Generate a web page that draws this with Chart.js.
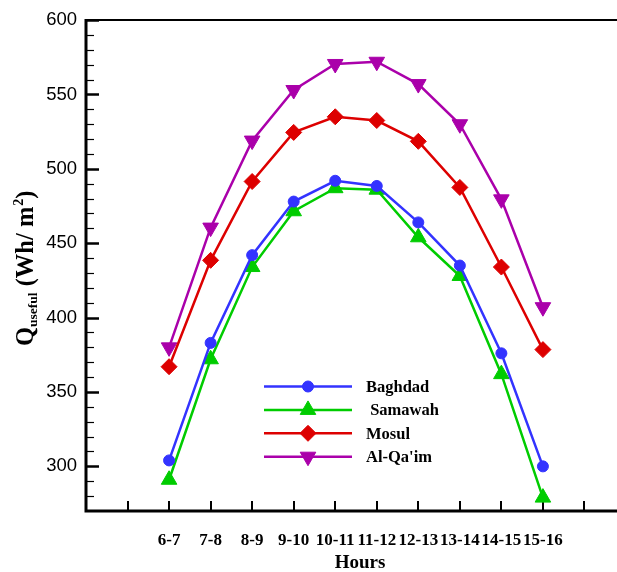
<!DOCTYPE html>
<html>
<head>
<meta charset="utf-8">
<title>Useful heat gain per hour</title>
<script src="https://cdn.jsdelivr.net/npm/chart.js@4.4.1/dist/chart.umd.min.js"></script>
<style>
  html, body { margin: 0; padding: 0; background: #fff; overflow: hidden; }
  #wrap { position: relative; width: 617px; height: 572px; overflow: hidden; }
  canvas { position: absolute; left: 0; top: 0; }
</style>
</head>
<body>
<div id="wrap"><canvas id="chart" width="640" height="572"></canvas></div>
<script>
// hourly useful heat (Wh/m2) for each city
const hours = ["6-7", "7-8", "8-9", "9-10", "10-11", "11-12", "12-13", "13-14", "14-15", "15-16"];
const baghdad = [304, 383, 442, 478, 492, 488.5, 464, 435, 376, 300];
const samawah = [291, 372, 434, 471.5, 487, 486, 454, 428, 362, 279];
const mosul = [367, 438.5, 491.5, 524.5, 535, 532.5, 518.5, 487.5, 434, 378.5];
const alqaim = [380, 460.5, 519, 553, 570.5, 572, 557, 530, 479.5, 407];
const yTickValues = [300, 350, 400, 450, 500, 550, 600];

const serif = "'Liberation Serif', 'Times New Roman', serif";
const sans = "'Liberation Sans', Arial, sans-serif";

function pts(arr) {
  return arr.map((v, i) => ({ x: i, y: v }));
}

function series(label, values, color, style, radius, rotation) {
  return {
    label: label,
    data: pts(values),
    borderColor: color,
    backgroundColor: color,
    borderWidth: 2.5,
    pointStyle: style,
    pointRadius: radius,
    pointHoverRadius: radius,
    pointRotation: rotation || 0,
    pointBorderWidth: 1,
    pointBackgroundColor: color,
    pointBorderColor: color,
    tension: 0
  };
}

// axes with inward ticks, drawn by hand
const frame = {
  id: "frame",
  beforeDatasetsDraw(chart) {
    const ctx = chart.ctx;
    const a = chart.chartArea;
    const xs = chart.scales.x, ys = chart.scales.y;
    ctx.save();
    ctx.strokeStyle = "#000";
    ctx.lineCap = "butt";

    // y ticks: major every 50, minor every 10
    for (let v = 280; v <= 600; v += 10) {
      const y = Math.round(ys.getPixelForValue(v)) + 0.5;
      const major = v % 50 === 0;
      ctx.lineWidth = major ? 2.5 : 1.2;
      ctx.beginPath();
      ctx.moveTo(a.left, y);
      ctx.lineTo(a.left + (major ? 13 : 8), y);
      ctx.stroke();
    }
    // x ticks
    ctx.lineWidth = 2;
    for (let i = -1; i <= 10; i++) {
      const x = Math.round(xs.getPixelForValue(i));
      ctx.beginPath();
      ctx.moveTo(x, a.bottom);
      ctx.lineTo(x, a.bottom - 10);
      ctx.stroke();
    }
    // left, bottom and top lines
    ctx.lineWidth = 3;
    ctx.beginPath();
    ctx.moveTo(a.left, a.top - 1);
    ctx.lineTo(a.left, a.bottom + 1.5);
    ctx.moveTo(a.left - 1.5, a.bottom);
    ctx.lineTo(a.right + 20, a.bottom);
    ctx.stroke();
    ctx.lineWidth = 2;
    ctx.beginPath();
    ctx.moveTo(a.left, a.top);
    ctx.lineTo(a.right + 20, a.top);
    ctx.stroke();
    ctx.restore();
  },
  afterDraw(chart) {
    const ctx = chart.ctx;
    ctx.save();
    ctx.fillStyle = "#000";

    // x title
    ctx.font = "bold 19px " + serif;
    ctx.textAlign = "center";
    ctx.textBaseline = "middle";
    ctx.fillText("Hours", 360, 563);

    // y title, rotated, with sub/superscript
    ctx.translate(33, 346);
    ctx.rotate(-Math.PI / 2);
    ctx.textAlign = "left";
    ctx.textBaseline = "alphabetic";
    let x = 0;
    ctx.font = "bold 24.5px " + serif;
    ctx.fillText("Q", x, 0);
    x += ctx.measureText("Q").width;
    ctx.font = "bold 13.5px " + serif;
    ctx.fillText("useful", x, 4);
    x += ctx.measureText("useful").width;
    ctx.font = "bold 24.5px " + serif;
    ctx.fillText(" (Wh/ m", x, 0);
    x += ctx.measureText(" (Wh/ m").width;
    ctx.font = "bold 14px " + serif;
    ctx.fillText("2", x + 1, -10);
    x += ctx.measureText("2").width + 1;
    ctx.font = "bold 24.5px " + serif;
    ctx.fillText(")", x, 0);
    ctx.restore();

    // legend: line + marker + name
    ctx.save();
    chart.data.datasets.forEach((ds, i) => {
      const y = 386.5 + i * 23.4;
      ctx.strokeStyle = ds.borderColor;
      ctx.fillStyle = ds.backgroundColor;
      ctx.lineWidth = 2.5;
      ctx.beginPath();
      ctx.moveTo(264, y);
      ctx.lineTo(352, y);
      ctx.stroke();
      ctx.lineWidth = 1;
      Chart.helpers.drawPoint(ctx, {
        pointStyle: ds.pointStyle,
        radius: ds.pointRadius,
        rotation: ds.pointRotation,
        borderWidth: 1
      }, 308, y);
      ctx.fillStyle = "#000";
      ctx.font = "bold 16.5px " + serif;
      ctx.textAlign = "left";
      ctx.textBaseline = "middle";
      ctx.fillText(ds.label, 366, y + 1);
    });
    ctx.restore();
  }
};

new Chart(document.getElementById("chart"), {
  type: "line",
  data: {
    datasets: [
      series("Baghdad", baghdad, "#3333ff", "circle", 5.5),
      series(" Samawah", samawah, "#00cc00", "triangle", 9),
      series("Mosul", mosul, "#dd0000", "rectRot", 8),
      series("Al-Qa'im", alqaim, "#aa00aa", "triangle", 9, 180)
    ]
  },
  options: {
    responsive: false,
    animation: false,
    devicePixelRatio: 1,
    layout: { padding: { top: 17, right: 14, left: 0, bottom: 0 } },
    plugins: { legend: { display: false }, tooltip: { enabled: false } },
    scales: {
      x: {
        type: "linear",
        min: -2,
        max: 11,
        grid: { display: false, drawTicks: false },
        border: { display: false },
        afterBuildTicks(s) { s.ticks = hours.map((h, i) => ({ value: i })); },
        afterFit(s) { s.height = 61; },
        ticks: {
          autoSkip: false,
          maxRotation: 0,
          padding: 19,
          color: "#000",
          font: { family: serif, size: 17, weight: "bold" },
          callback: v => hours[v] || ""
        }
      },
      y: {
        min: 270,
        max: 600,
        grid: { display: false, drawTicks: false },
        border: { display: false },
        afterBuildTicks(s) { s.ticks = yTickValues.map(v => ({ value: v })); },
        afterFit(s) { s.width = 86; },
        ticks: {
          padding: 9,
          color: "#000",
          font: { family: sans, size: 18.5 }
        }
      }
    }
  },
  plugins: [frame]
});
</script>
</body>
</html>
